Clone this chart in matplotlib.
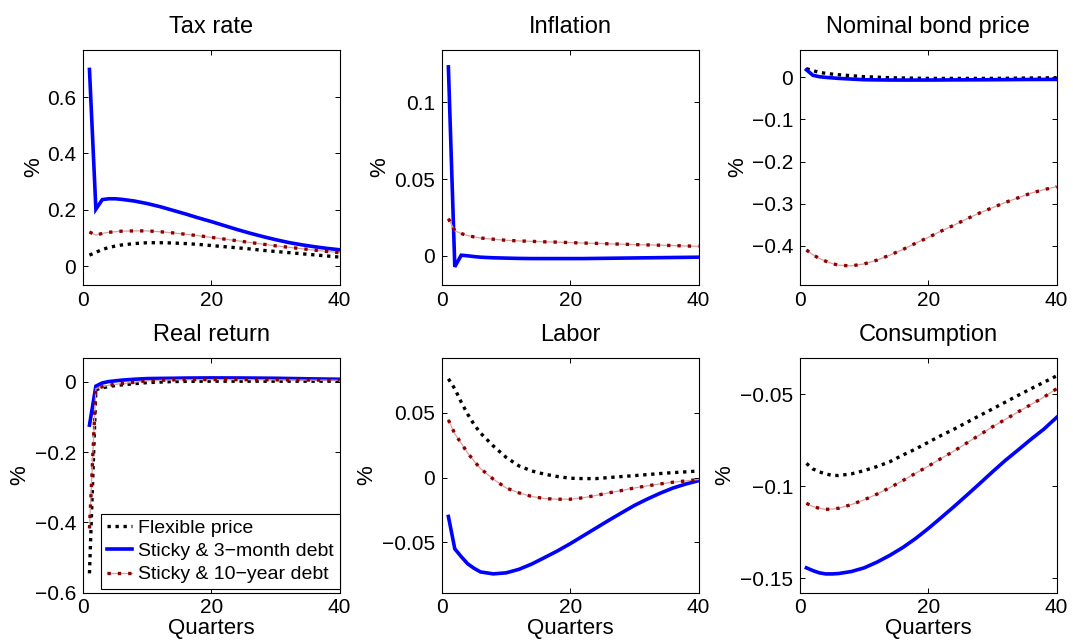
import numpy as np
import matplotlib
matplotlib.use('Agg')
import matplotlib.pyplot as plt
from matplotlib.ticker import FuncFormatter
from matplotlib.lines import Line2D

plt.rcParams['font.family'] = ['Liberation Sans', 'DejaVu Sans']

quarters = [1, 2, 3, 4, 5, 6, 8, 10, 12, 14, 16, 18, 20, 22, 24, 26, 28, 30, 32, 34, 36, 38, 40]

tax_flex = [0.039, 0.049, 0.059, 0.066, 0.071, 0.075, 0.080, 0.083, 0.083, 0.082, 0.080, 0.077,
            0.073, 0.069, 0.065, 0.061, 0.056, 0.052, 0.048, 0.044, 0.040, 0.036, 0.032]
tax_short = [0.698, 0.202, 0.236, 0.239, 0.239, 0.237, 0.231, 0.222, 0.211, 0.198, 0.185, 0.171,
             0.158, 0.144, 0.130, 0.117, 0.105, 0.094, 0.084, 0.076, 0.069, 0.063, 0.058]
tax_long = [0.121, 0.110, 0.116, 0.120, 0.122, 0.124, 0.125, 0.125, 0.122, 0.118, 0.113, 0.108,
            0.102, 0.096, 0.090, 0.084, 0.078, 0.072, 0.067, 0.062, 0.057, 0.052, 0.048]

infl_short = [0.123, -0.0072, 0.0004, 0.0, -0.0005, -0.0009, -0.0013, -0.0015, -0.0017, -0.0018,
              -0.0018, -0.0018, -0.0018, -0.0018, -0.0017, -0.0016, -0.0015, -0.0014, -0.0013,
              -0.0012, -0.0011, -0.0010, -0.0009]
infl_long = [0.0242, 0.0163, 0.0145, 0.0132, 0.0123, 0.0116, 0.0108, 0.0101, 0.0097, 0.0094, 0.0091,
             0.0089, 0.0086, 0.0083, 0.0081, 0.0078, 0.0076, 0.0073, 0.0071, 0.0069, 0.0067,
             0.0064, 0.0062]

bond_flex = [0.0206, 0.016, 0.012, 0.0095, 0.0078, 0.0063, 0.004, 0.0016, 0.0005, -0.0008, -0.0015,
             -0.002, -0.0024, -0.0025, -0.0025, -0.0025, -0.0024, -0.0024, -0.0022, -0.0018,
             -0.0015, -0.0012, -0.0008]
bond_short = [0.018, 0.005, 0.0016, 0.0, -0.0012, -0.0024, -0.004, -0.0056, -0.006, -0.0063, -0.0064,
              -0.0064, -0.0063, -0.0062, -0.006, -0.0059, -0.0058, -0.0056, -0.0054, -0.0052,
              -0.005, -0.0049, -0.0048]
bond_long = [-0.41, -0.421, -0.43, -0.4365, -0.442, -0.446, -0.4476, -0.443, -0.434, -0.422, -0.409,
             -0.394, -0.380, -0.365, -0.351, -0.336, -0.322, -0.3095, -0.297, -0.286, -0.275,
             -0.2667, -0.2595]

real_flex = [-0.545, -0.022, -0.017, -0.013, -0.0105, -0.0085, -0.005, -0.002, -0.0005, 0.001,
             0.0015, 0.002, 0.002, 0.002, 0.002, 0.002, 0.002, 0.002, 0.002, 0.002, 0.002, 0.002, 0.002]
real_short = [-0.123, -0.012, -0.003, 0.001, 0.003, 0.005, 0.0076, 0.0095, 0.0100, 0.0104, 0.0110,
              0.0112, 0.0114, 0.0113, 0.0112, 0.0110, 0.0107, 0.0104, 0.0098, 0.0092, 0.0086,
              0.0081, 0.0076]
real_long = [-0.417, -0.019, -0.014, -0.0095, -0.007, -0.005, -0.001, 0.003, 0.0045, 0.0057, 0.0062,
             0.0065, 0.0066, 0.0066, 0.0065, 0.0063, 0.0061, 0.0058, 0.0056, 0.0054, 0.0051,
             0.0049, 0.0047]

labor_flex = [0.0762, 0.0685, 0.0582, 0.049, 0.041, 0.0344, 0.0244, 0.0156, 0.009, 0.0051, 0.0026,
              0.0008, -0.0005, -0.0008, -0.0008, 0.0, 0.0008, 0.0015, 0.0023, 0.0031, 0.0038,
              0.0044, 0.0051]
labor_short = [-0.030, -0.055, -0.061, -0.0665, -0.070, -0.0728, -0.0743, -0.0735, -0.0708, -0.0667,
               -0.0617, -0.0566, -0.051, -0.045, -0.039, -0.033, -0.0272, -0.0215, -0.0166,
               -0.0121, -0.0081, -0.005, -0.0024]
labor_long = [0.0445, 0.0338, 0.0265, 0.019, 0.0128, 0.0070, -0.0012, -0.008, -0.0118, -0.0146,
              -0.0162, -0.0167, -0.0167, -0.0156, -0.0138, -0.0118, -0.010, -0.008, -0.0064,
              -0.0049, -0.0036, -0.0026, -0.0015]

cons_flex = [-0.0875, -0.0905, -0.0921, -0.0932, -0.094, -0.0941, -0.0932, -0.0914, -0.0892, -0.0866,
             -0.083, -0.0797, -0.076, -0.0723, -0.0689, -0.0652, -0.0615, -0.0579, -0.0542,
             -0.0505, -0.0469, -0.0434, -0.0399]
cons_short = [-0.1443, -0.1458, -0.147, -0.1476, -0.1476, -0.1474, -0.1463, -0.1443, -0.1412,
              -0.1375, -0.1333, -0.1284, -0.1229, -0.117, -0.111, -0.1048, -0.0985, -0.0921,
              -0.0859, -0.0802, -0.0744, -0.0689, -0.0625]
cons_long = [-0.1092, -0.111, -0.1119, -0.1125, -0.1123, -0.1119, -0.1099, -0.1073, -0.1042, -0.1007,
             -0.0969, -0.0929, -0.089, -0.0848, -0.0808, -0.0764, -0.072, -0.0676, -0.0636,
             -0.0595, -0.0555, -0.0515, -0.0469]

titles = ['Tax rate', 'Inflation', 'Nominal bond price', 'Real return', 'Labor', 'Consumption']
legend_labels = ['Flexible price', 'Sticky & 3\u2212month debt', 'Sticky & 10\u2212year debt']

RED = '#8c0000'
PINK = '#dba0a0'


def fmt(v, pos):
    s = '%g' % v
    return s.replace('-', '\u2212')


def plot_panel(ax, flex, short, long_):
    if flex is not None:
        ax.plot(quarters, flex, color='black', lw=2.4, linestyle=(0, (1, 1.4)),
                dash_capstyle='butt')
    ax.plot(quarters, short, color='blue', lw=2.6, solid_joinstyle='miter')
    ax.plot(quarters, long_, color=PINK, lw=0.9)
    ax.plot(quarters, long_, color=RED, lw=2.4, linestyle=(0, (1, 2.1)), dash_capstyle='butt')


def style_axes(ax, title, ylim, yticks, ylab_x):
    ax.set_xlim(0, 40)
    ax.set_ylim(*ylim)
    ax.set_xticks([0, 20, 40])
    ax.set_yticks(yticks)
    ax.yaxis.set_major_formatter(FuncFormatter(fmt))
    ax.tick_params(direction='in', top=True, right=True, length=3.5, width=0.7, labelsize=15)
    ax.tick_params(axis='x', pad=4)
    ax.tick_params(axis='y', pad=5)
    for sp in ax.spines.values():
        sp.set_linewidth(0.8)
    ax.set_title(title, fontsize=17, pad=12)
    ax.set_ylabel('%', fontsize=16)
    ax.yaxis.set_label_coords(ylab_x, 0.5)


fig = plt.figure(figsize=(10.73, 6.41), dpi=100)
lefts = [0.0774, 0.4119, 0.7456]
bottoms = [0.5554, 0.0754]
w, h = 0.2391, 0.3666

axes = []
for r in range(2):
    for c in range(3):
        axes.append(fig.add_axes([lefts[c], bottoms[r], w, h]))

plot_panel(axes[0], tax_flex, tax_short, tax_long)
style_axes(axes[0], titles[0], (-0.067, 0.767), [0, 0.2, 0.4, 0.6], -0.152)

plot_panel(axes[1], None, infl_short, infl_long)
style_axes(axes[1], titles[1], (-0.019, 0.134), [0, 0.05, 0.1], -0.200)

plot_panel(axes[2], bond_flex, bond_short, bond_long)
style_axes(axes[2], titles[2], (-0.493, 0.065), [-0.4, -0.3, -0.2, -0.1, 0], -0.200)

plot_panel(axes[3], real_flex, real_short, real_long)
style_axes(axes[3], titles[3], (-0.6, 0.069), [-0.6, -0.4, -0.2, 0], -0.204)

plot_panel(axes[4], labor_flex, labor_short, labor_long)
style_axes(axes[4], titles[4], (-0.0888, 0.0925), [-0.05, 0, 0.05], -0.252)

plot_panel(axes[5], cons_flex, cons_short, cons_long)
style_axes(axes[5], titles[5], (-0.1578, -0.030), [-0.15, -0.1, -0.05], -0.252)

for ax in axes[3:]:
    ax.set_xlabel('Quarters', fontsize=16, labelpad=0.5)

# legend in the real return panel
h_flex = Line2D([], [], color='black', lw=2.4, linestyle=(0, (1, 1.4)), dash_capstyle='butt')
h_short = Line2D([], [], color='blue', lw=2.6)
h_long = (Line2D([], [], color=PINK, lw=0.9),
          Line2D([], [], color=RED, lw=2.4, linestyle=(0, (1, 2.1)), dash_capstyle='butt'))
leg = axes[3].legend([h_flex, h_short, h_long], legend_labels, loc='lower right',
                     bbox_to_anchor=(1.0, 0.015), borderaxespad=0, fontsize=14,
                     handlelength=1.3, handletextpad=0.3, labelspacing=0.28,
                     borderpad=0.3, fancybox=False, framealpha=1)
leg.get_frame().set_edgecolor('black')
leg.get_frame().set_linewidth(0.8)

fig.savefig('out.png', dpi=100)
